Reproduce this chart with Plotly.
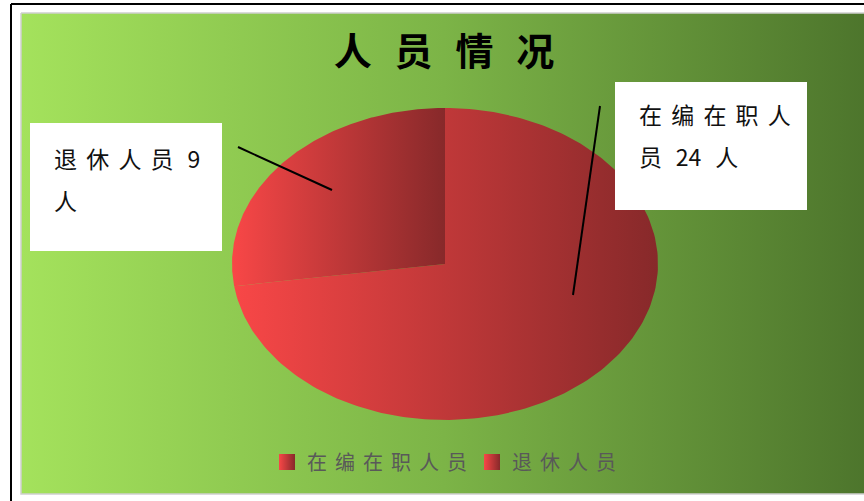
import numpy as np
import plotly.graph_objects as go

# ---- data ----
title_text = "人员情况"
categories = ["在编在职人员", "退休人员"]
values = [24, 9]
label_lines = [["在编在职人", "员 24 人"], ["退休人员 9", "人"]]

W, H = 864, 501
THIN = "\u2009"


def spaced(s, n=2, space_n=3):
    out = ""
    for i, ch in enumerate(s):
        if ch == " ":
            out += THIN * space_n
            continue
        out += ch
        if i < len(s) - 1:
            nxt = s[i + 1]
            if ch.isdigit() and nxt.isdigit():
                continue
            if nxt == " ":
                continue
            out += THIN * n
    return out


# pie geometry (pixel axes)
cx, cy, rx, ry = 445, 264, 213, 156
light, dark = "#F84747", "#87292A"

fig = go.Figure()

# background gradient panel
bx0, bx1, by0, by1 = 21, 866, 13, 494
fig.add_trace(go.Scatter(
    x=[bx0, bx1, bx1, bx0, bx0], y=[by0, by0, by1, by1, by0],
    mode="lines", line=dict(width=1.5, color="#CFCFCF"), fill="toself",
    fillgradient=dict(type="horizontal",
                      colorscale=[[0, "#A4E25C"], [0.5, "#7CB447"], [1, "#4D752C"]]),
    hoverinfo="skip", showlegend=False))

# pie slices as elliptical wedges (clockwise from 12 o'clock)
total = sum(values)
start = 0.0
for name, v in zip(categories, values):
    span = v / total * 2 * np.pi
    th = np.linspace(start, start + span, 200)
    xs = np.concatenate([[cx], cx + rx * np.sin(th), [cx]])
    ys = np.concatenate([[cy], cy - ry * np.cos(th), [cy]])
    fig.add_trace(go.Scatter(
        x=xs, y=ys, mode="lines", line=dict(width=0), fill="toself",
        fillgradient=dict(type="horizontal", colorscale=[[0, light], [1, dark]]),
        name=name, legendgroup=name, showlegend=False, hoverinfo="name"))
    start += span

# legend entries
for name in categories:
    fig.add_trace(go.Scatter(
        x=[None], y=[None], mode="markers", name=spaced(name), legendgroup=name,
        marker=dict(symbol="square", size=16, color=light,
                    gradient=dict(type="horizontal", color=dark))))

shapes = [
    # outer frame lines
    dict(type="line", xref="x", yref="y", x0=11, x1=866, y0=4, y1=4,
         line=dict(color="black", width=2)),
    dict(type="line", xref="x", yref="y", x0=11, x1=11, y0=4, y1=503,
         line=dict(color="black", width=2)),
    # label boxes
    dict(type="rect", xref="x", yref="y", x0=615, x1=807, y0=82, y1=210,
         fillcolor="white", line=dict(width=0)),
    dict(type="rect", xref="x", yref="y", x0=30, x1=222, y0=123, y1=251,
         fillcolor="white", line=dict(width=0)),
    # leader lines
    dict(type="line", xref="x", yref="y", x0=600, y0=106, x1=573, y1=295,
         line=dict(color="black", width=2)),
    dict(type="line", xref="x", yref="y", x0=238, y0=147, x1=332, y1=190,
         line=dict(color="black", width=2)),
]

annotations = []
label_pos = [(637, 114), (52, 158)]
for lines, (lx, ly) in zip(label_lines, label_pos):
    for i, ln in enumerate(lines):
        annotations.append(dict(
            x=lx, y=ly + i * 42, xref="x", yref="y", xanchor="left", yanchor="middle",
            text=spaced(ln), showarrow=False,
            font=dict(family="Noto Sans CJK SC", size=23, color="#111111")))

fig.update_layout(
    width=W, height=H, margin=dict(l=0, r=0, t=0, b=0),
    paper_bgcolor="white", plot_bgcolor="rgba(0,0,0,0)",
    xaxis=dict(range=[0, W], visible=False, fixedrange=True),
    yaxis=dict(range=[H, 0], visible=False, fixedrange=True),
    title=dict(text="<b>" + spaced(title_text, 3) + "</b>", x=444 / W, xanchor="center",
               y=1 - 52 / H, yanchor="middle", yref="container",
               font=dict(family="Noto Sans CJK SC", size=38, color="black")),
    legend=dict(orientation="h", x=444 / W, xanchor="center", y=1 - 462 / H,
                yanchor="middle", bgcolor="rgba(0,0,0,0)",
                font=dict(family="Noto Sans CJK SC", size=20, color="#595959"),
                itemwidth=30, tracegroupgap=0),
    shapes=shapes, annotations=annotations,
    font=dict(family="Noto Sans CJK SC"),
)

fig.write_html("out.html", config={"displayModeBar": False},
               post_script="document.body.style.margin='0';document.body.style.overflow='hidden';")
